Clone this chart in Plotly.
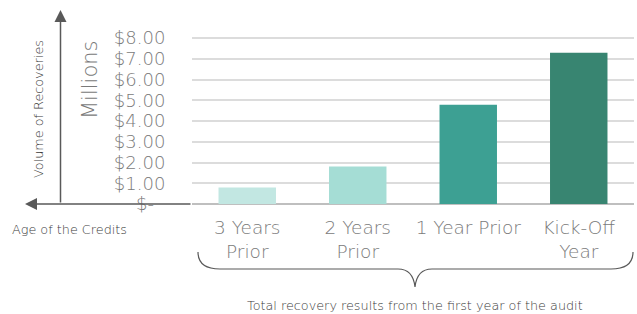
import plotly.graph_objects as go

categories = ["3 Years Prior", "2 Years Prior", "1 Year Prior", "Kick-Off Year"]
category_labels = ["3 Years<br>Prior", "2 Years<br>Prior", "1 Year Prior", "Kick-Off<br>Year"]
values = [0.80, 1.81, 4.79, 7.29]
bar_colors = ["#c2e7e2", "#a5ddd5", "#3da093", "#388571"]
y_tickvals = [0, 1, 2, 3, 4, 5, 6, 7, 8]
y_ticktext = ["$-\u00a0\u00a0", "$1.00", "$2.00", "$3.00", "$4.00",
              "$5.00", "$6.00", "$7.00", "$8.00"]

FONT = "DejaVu Sans"
GRAY = "#7a7a7a"
DARK = "#3a3a3a"

W, H = 637, 314
L, R, T, B = 192, 3, 36, 110
pw, ph = W - L - R, H - T - B


def px(x):
    return (x - L) / pw


def py(y):
    return (H - B - y) / ph


fig = go.Figure(go.Bar(
    x=categories, y=values, marker=dict(color=bar_colors, line=dict(width=0)),
    hoverinfo="skip"))

fig.update_layout(
    width=W, height=H, margin=dict(l=L, r=R, t=T, b=B),
    plot_bgcolor="white", paper_bgcolor="white", bargap=0.48, showlegend=False,
    font=dict(family=FONT, color=GRAY),
)
fig.update_xaxes(
    tickvals=categories, ticktext=category_labels,
    tickfont=dict(family=FONT, size=18.5, color=GRAY, weight=200),
    ticks="outside", ticklen=7, tickcolor="rgba(0,0,0,0)",
    showgrid=False, showline=False, fixedrange=True, automargin=False,
)
fig.update_yaxes(
    range=[0, 8.1], tickvals=y_tickvals, ticktext=y_ticktext,
    tickfont=dict(family=FONT, size=18, color=GRAY, weight=200),
    ticks="outside", ticklen=22, tickcolor="rgba(0,0,0,0)",
    showgrid=True, gridcolor="#dcdcdc", gridwidth=1.5,
    zeroline=True, zerolinecolor="#bfbfbf", zerolinewidth=2,
    showline=False, fixedrange=True, automargin=False,
)

# axis arrows (decorative)
fig.add_annotation(xref="paper", yref="paper", x=px(25), y=py(204), ax=L - 25, ay=0,
                   text="", showarrow=True, arrowhead=2, arrowsize=1.6, arrowwidth=1.5,
                   arrowcolor="#595959")
fig.add_annotation(xref="paper", yref="paper", x=px(60.5), y=py(10), ax=0, ay=194,
                   text="", showarrow=True, arrowhead=2, arrowsize=1.6, arrowwidth=1.5,
                   arrowcolor="#595959")

# brace
pts = [(198, 252), (198, 269), (220, 269), (398, 269), (413, 269), (415, 287),
       (417, 269), (432, 269), (611, 269), (633, 269), (633, 252)]
p = [(px(a), py(b)) for a, b in pts]
path = (f"M {p[0][0]},{p[0][1]} Q {p[1][0]},{p[1][1]} {p[2][0]},{p[2][1]} "
        f"L {p[3][0]},{p[3][1]} Q {p[4][0]},{p[4][1]} {p[5][0]},{p[5][1]} "
        f"Q {p[6][0]},{p[6][1]} {p[7][0]},{p[7][1]} L {p[8][0]},{p[8][1]} "
        f"Q {p[9][0]},{p[9][1]} {p[10][0]},{p[10][1]}")
fig.add_shape(type="path", xref="paper", yref="paper", path=path,
              line=dict(color="#595959", width=1.2))

fig.add_annotation(xref="paper", yref="paper", x=px(415), y=py(305),
                   text="Total recovery results from the first year of the audit",
                   showarrow=False, font=dict(family=FONT, size=12.8, color=DARK, weight=200),
                   xanchor="center", yanchor="middle")
fig.add_annotation(xref="paper", yref="paper", x=px(10), y=py(229), text="Age of the Credits",
                   showarrow=False, font=dict(family=FONT, size=12.8, color=DARK, weight=200),
                   xanchor="left", yanchor="middle")
fig.add_annotation(xref="paper", yref="paper", x=px(38), y=py(109), text="Volume of Recoveries",
                   showarrow=False, textangle=-90,
                   font=dict(family=FONT, size=12.8, color=DARK, weight=200),
                   xanchor="center", yanchor="middle")
fig.add_annotation(xref="paper", yref="paper", x=px(90), y=py(80), text="Millions",
                   showarrow=False, textangle=-90,
                   font=dict(family=FONT, size=21, color=GRAY, weight=200),
                   xanchor="center", yanchor="middle")

fig.write_html("out.html", config={"displayModeBar": False},
               post_script="document.body.style.margin='0';document.body.style.padding='0';")
